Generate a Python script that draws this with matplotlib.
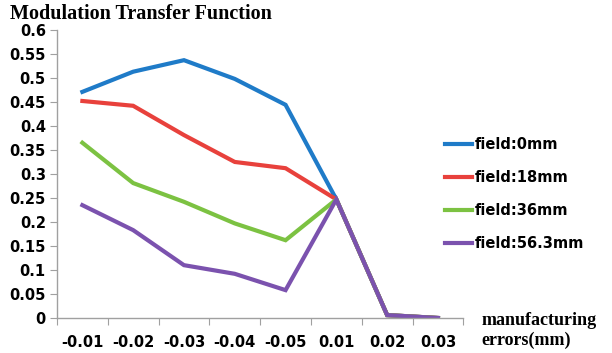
import numpy as np
import matplotlib.pyplot as plt
from matplotlib.ticker import FixedLocator, NullFormatter, FixedFormatter

errors = ['-0.01', '-0.02', '-0.03', '-0.04', '-0.05', '0.01', '0.02', '0.03']

mtf_0 = [0.471, 0.513, 0.537, 0.498, 0.444, 0.247, 0.006, 0.0]
mtf_18 = [0.452, 0.442, 0.381, 0.325, 0.312, 0.247, 0.006, 0.0]
mtf_36 = [0.365, 0.281, 0.242, 0.197, 0.162, 0.247, 0.006, 0.0]
mtf_56 = [0.235, 0.183, 0.110, 0.092, 0.058, 0.247, 0.006, 0.0]

labels = ['field:0mm', 'field:18mm', 'field:36mm', 'field:56.3mm']
colors = ['#1f7bc8', '#e8413c', '#7cc242', '#7b52ae']

fig = plt.figure(figsize=(6.12, 3.53), dpi=100)
ax = fig.add_axes([0.0931, 0.0992, 0.664, 0.816])

x = np.arange(len(errors))
for vals, lab, col in zip([mtf_0, mtf_18, mtf_36, mtf_56], labels, colors):
    ax.plot(x, vals, color=col, lw=3, label=lab, solid_joinstyle='miter')

ax.set_xlim(-0.5, len(errors) - 0.5)
ax.set_ylim(0, 0.6)

ax.set_yticks(np.arange(0, 0.61, 0.05))
ax.set_yticklabels(['0', '0.05', '0.1', '0.15', '0.2', '0.25', '0.3',
                    '0.35', '0.4', '0.45', '0.5', '0.55', '0.6'])

# category boundaries get tick marks, centres carry the labels
ax.xaxis.set_major_locator(FixedLocator(np.arange(-0.5, len(errors), 1.0)))
ax.xaxis.set_major_formatter(NullFormatter())
ax.xaxis.set_minor_locator(FixedLocator(x))
ax.xaxis.set_minor_formatter(FixedFormatter(errors))
ax.tick_params(axis='x', which='minor', length=0, pad=12)
ax.tick_params(axis='x', which='major', length=5, color='#a0a0a0')
ax.tick_params(axis='y', length=5, color='#a0a0a0', pad=3)

for lbl in ax.get_xticklabels(minor=True) + ax.get_yticklabels():
    lbl.set_fontweight('bold')
    lbl.set_fontsize(10.5)
    lbl.set_family('DejaVu Sans')

for s in ['top', 'right']:
    ax.spines[s].set_visible(False)
for s in ['left', 'bottom']:
    ax.spines[s].set_color('#a0a0a0')
    ax.spines[s].set_linewidth(1)

fig.text(0.016, 0.96, 'Modulation Transfer Function', family='Liberation Serif',
         fontweight='bold', fontsize=14.5, va='center', ha='left')
fig.text(0.787, 0.093, 'manufacturing', family='Liberation Serif',
         fontweight='bold', fontsize=13, va='center', ha='left')
fig.text(0.787, 0.037, 'errors(mm)', family='Liberation Serif',
         fontweight='bold', fontsize=13, va='center', ha='left')

leg = fig.legend(loc='upper left', bbox_to_anchor=(0.705, 0.65), frameon=False,
                 handlelength=1.9, handletextpad=0.15, labelspacing=1.25,
                 prop={'family': 'DejaVu Sans', 'weight': 'bold', 'size': 10.5})
for h in leg.get_lines():
    h.set_linewidth(3)

fig.savefig('out.png', dpi=100)
